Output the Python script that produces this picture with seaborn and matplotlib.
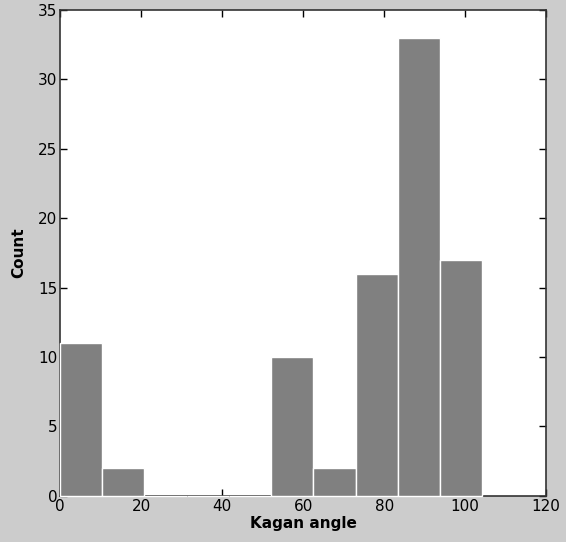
import numpy as np
import pandas as pd
import matplotlib
matplotlib.use("Agg")
import matplotlib.pyplot as plt
import seaborn as sns

# Histogram of Kagan angles: bin edges and counts per bin
bin_edges = [0.0, 10.42, 20.84, 31.26, 41.68, 52.1, 62.52, 72.94, 83.36, 93.78, 104.2]
bin_counts = [11, 2, 0, 0, 0, 10, 2, 16, 33, 17]
x_ticks = [0, 20, 40, 60, 80, 100, 120]
y_ticks = [0, 5, 10, 15, 20, 25, 30, 35]

centers = [(a + b) / 2 for a, b in zip(bin_edges[:-1], bin_edges[1:])]
df = pd.DataFrame({"Kagan angle": centers, "n": bin_counts})

sns.set_style("ticks")
plt.rcParams["font.family"] = ["DejaVu Sans"]
plt.rcParams["text.color"] = "black"
plt.rcParams["axes.labelcolor"] = "black"
plt.rcParams["xtick.color"] = "black"
plt.rcParams["ytick.color"] = "black"

fig = plt.figure(figsize=(5.66, 5.42), dpi=100, facecolor="#cccccc")
ax = fig.add_axes([0.106, 0.085, 0.859, 0.897])
ax.set_facecolor("white")

sns.histplot(data=df, x="Kagan angle", weights="n", bins=bin_edges,
             color="#808080", alpha=1.0, edgecolor="white", linewidth=1.0,
             ax=ax, zorder=3)
for p in ax.patches:
    p.set_clip_on(False)

ax.set_xlim(0, 120)
ax.set_ylim(0, 35)
ax.set_xticks(x_ticks)
ax.set_yticks(y_ticks)
ax.tick_params(direction="in", top=True, right=True, length=5, width=1,
               colors="black", labelsize=11, pad=2)
for s in ax.spines.values():
    s.set_color("#333333")
    s.set_linewidth(1.2)
    s.set_visible(True)

ax.set_xlabel("Kagan angle", fontsize=11, fontweight="bold", labelpad=2)
ax.set_ylabel("Count", fontsize=11, fontweight="bold", labelpad=8)

fig.savefig("out.png", dpi=100, facecolor=fig.get_facecolor())
